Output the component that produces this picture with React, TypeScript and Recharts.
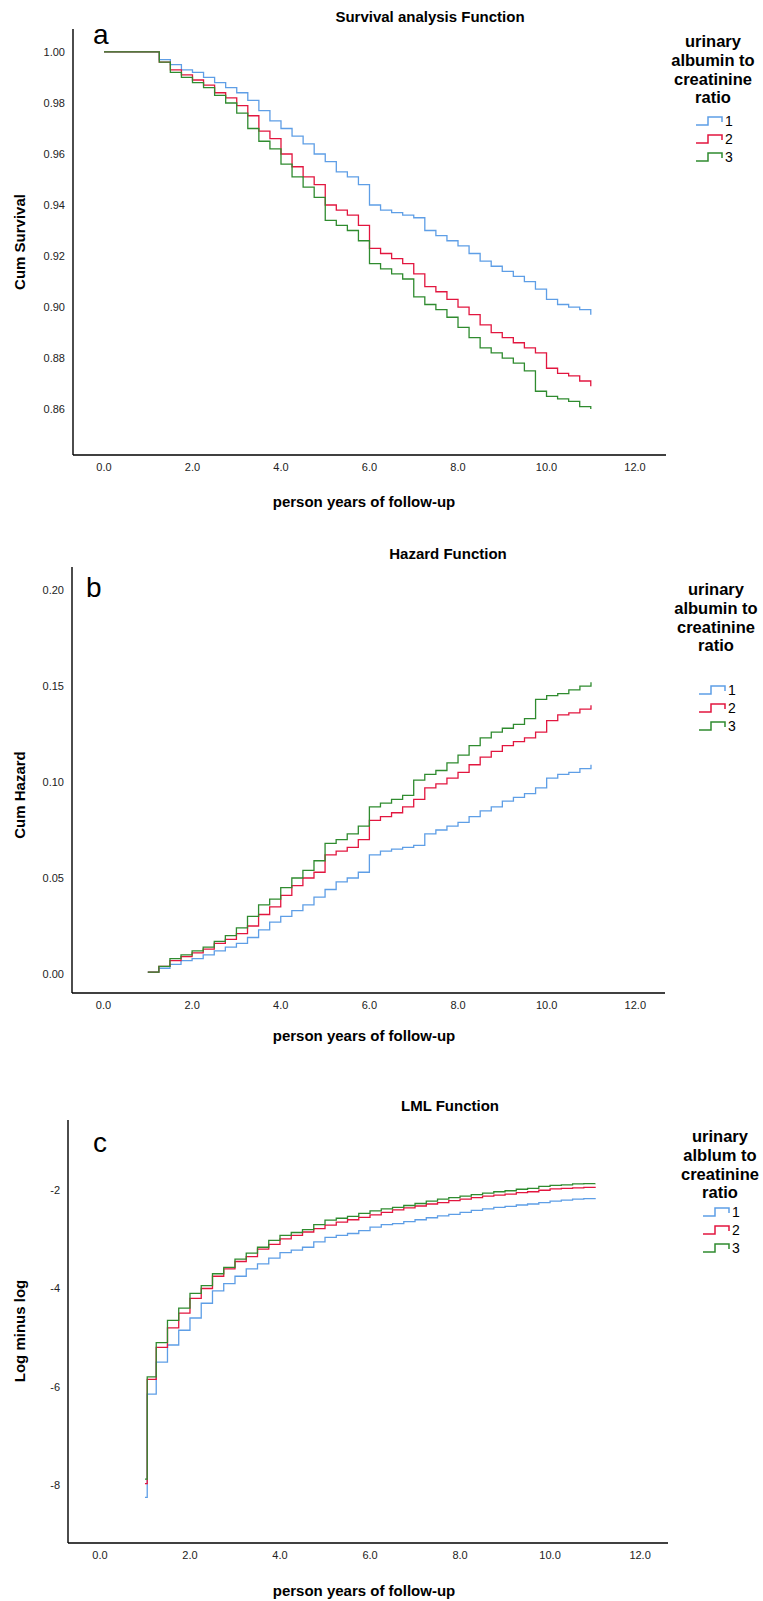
import React from "react";
import { LineChart, Line, XAxis, YAxis } from "recharts";

const FONT = '"Liberation Sans", Arial, sans-serif';
const COLORS = ["#5e9ee6", "#e2163f", "#2f8b2f"];
const GROUPS = ["1", "2", "3"];
const X_TICKS = [0, 2, 4, 6, 8, 10, 12];

// a: survival
const survTimes = [0, 1.0, 1.25, 1.5, 1.75, 2.0, 2.25, 2.5, 2.75, 3.0, 3.25, 3.5, 3.75, 4.0, 4.25, 4.5, 4.75, 5.0, 5.25, 5.5, 5.75, 6.0, 6.25, 6.5, 6.75, 7.0, 7.25, 7.5, 7.75, 8.0, 8.25, 8.5, 8.75, 9.0, 9.25, 9.5, 9.75, 10.0, 10.25, 10.5, 10.75, 11.0];
const surv1 = [1.0, 1.0, 0.997, 0.995, 0.993, 0.992, 0.99, 0.988, 0.986, 0.984, 0.981, 0.977, 0.973, 0.97, 0.967, 0.964, 0.96, 0.957, 0.953, 0.951, 0.948, 0.94, 0.938, 0.937, 0.936, 0.935, 0.93, 0.928, 0.926, 0.924, 0.921, 0.918, 0.916, 0.914, 0.912, 0.91, 0.907, 0.903, 0.901, 0.9, 0.899, 0.897];
const surv2 = [1.0, 1.0, 0.996, 0.993, 0.991, 0.989, 0.987, 0.984, 0.982, 0.979, 0.975, 0.969, 0.966, 0.96, 0.955, 0.951, 0.948, 0.94, 0.938, 0.936, 0.932, 0.923, 0.921, 0.919, 0.917, 0.913, 0.908, 0.906, 0.903, 0.9, 0.897, 0.893, 0.89, 0.888, 0.886, 0.884, 0.882, 0.876, 0.874, 0.873, 0.871, 0.869];
const surv3 = [1.0, 1.0, 0.996, 0.992, 0.99, 0.988, 0.986, 0.983, 0.98, 0.976, 0.97, 0.965, 0.962, 0.956, 0.951, 0.947, 0.943, 0.934, 0.932, 0.93, 0.926, 0.917, 0.915, 0.913, 0.911, 0.904, 0.901, 0.899, 0.896, 0.892, 0.888, 0.884, 0.882, 0.88, 0.878, 0.875, 0.867, 0.865, 0.864, 0.863, 0.861, 0.86];
const survTicks = [0.86, 0.88, 0.9, 0.92, 0.94, 0.96, 0.98, 1.0];

// b: cumulative hazard
const hazTimes = [1.0, 1.25, 1.5, 1.75, 2.0, 2.25, 2.5, 2.75, 3.0, 3.25, 3.5, 3.75, 4.0, 4.25, 4.5, 4.75, 5.0, 5.25, 5.5, 5.75, 6.0, 6.25, 6.5, 6.75, 7.0, 7.25, 7.5, 7.75, 8.0, 8.25, 8.5, 8.75, 9.0, 9.25, 9.5, 9.75, 10.0, 10.25, 10.5, 10.75, 11.0];
const haz1 = [0.001, 0.003, 0.005, 0.007, 0.008, 0.01, 0.012, 0.014, 0.016, 0.019, 0.023, 0.027, 0.03, 0.033, 0.036, 0.04, 0.044, 0.048, 0.05, 0.053, 0.062, 0.064, 0.065, 0.066, 0.067, 0.073, 0.075, 0.077, 0.079, 0.082, 0.085, 0.087, 0.09, 0.092, 0.094, 0.097, 0.102, 0.104, 0.105, 0.107, 0.109];
const haz2 = [0.001, 0.004, 0.007, 0.009, 0.011, 0.013, 0.016, 0.018, 0.021, 0.025, 0.031, 0.035, 0.041, 0.046, 0.05, 0.053, 0.062, 0.064, 0.066, 0.07, 0.08, 0.082, 0.084, 0.087, 0.091, 0.097, 0.099, 0.102, 0.105, 0.109, 0.113, 0.116, 0.119, 0.121, 0.123, 0.126, 0.132, 0.135, 0.136, 0.138, 0.14];
const haz3 = [0.001, 0.004, 0.008, 0.01, 0.012, 0.014, 0.017, 0.02, 0.024, 0.03, 0.036, 0.039, 0.045, 0.05, 0.054, 0.059, 0.068, 0.07, 0.073, 0.077, 0.087, 0.089, 0.091, 0.093, 0.101, 0.104, 0.106, 0.11, 0.114, 0.119, 0.123, 0.126, 0.128, 0.13, 0.133, 0.143, 0.145, 0.146, 0.148, 0.15, 0.152];
const hazTicks = [0, 0.05, 0.1, 0.15, 0.2];

// c: log minus log
const lmlTimes = [1.0, 1.05, 1.25, 1.5, 1.75, 2.0, 2.25, 2.5, 2.75, 3.0, 3.25, 3.5, 3.75, 4.0, 4.25, 4.5, 4.75, 5.0, 5.25, 5.5, 5.75, 6.0, 6.25, 6.5, 6.75, 7.0, 7.25, 7.5, 7.75, 8.0, 8.25, 8.5, 8.75, 9.0, 9.25, 9.5, 9.75, 10.0, 10.25, 10.5, 10.75, 11.0];
const lml1 = [-8.25, -6.15, -5.5, -5.15, -4.85, -4.6, -4.3, -4.05, -3.9, -3.75, -3.6, -3.5, -3.38, -3.27, -3.22, -3.16, -3.05, -2.96, -2.92, -2.88, -2.82, -2.75, -2.7, -2.68, -2.64, -2.6, -2.56, -2.52, -2.49, -2.45, -2.41, -2.38, -2.35, -2.33, -2.3, -2.28, -2.25, -2.22, -2.2, -2.18, -2.17, -2.16];
const lml2 = [-7.97, -5.85, -5.2, -4.8, -4.5, -4.2, -4.0, -3.75, -3.6, -3.45, -3.35, -3.2, -3.1, -2.99, -2.92, -2.85, -2.78, -2.71, -2.65, -2.6, -2.55, -2.5, -2.45, -2.4, -2.36, -2.32, -2.28, -2.25, -2.21, -2.18, -2.15, -2.12, -2.1, -2.08, -2.05, -2.03, -2.0, -1.97, -1.96, -1.95, -1.94, -1.93];
const lml3 = [-7.88, -5.8, -5.1, -4.65, -4.4, -4.1, -3.94, -3.7, -3.57, -3.4, -3.28, -3.16, -3.02, -2.92, -2.86, -2.8, -2.7, -2.61, -2.57, -2.53, -2.47, -2.42, -2.38, -2.35, -2.31, -2.27, -2.22, -2.18, -2.15, -2.12, -2.09, -2.06, -2.03, -2.01, -1.98, -1.96, -1.92, -1.9, -1.89, -1.87, -1.865, -1.86];
const lmlTicks = [-8, -6, -4, -2];

const toRows = (times: number[], a: number[], b: number[], c: number[]) =>
  times.map((t, i) => ({ t, g1: a[i], g2: b[i], g3: c[i] }));

const tickStyle = { fontSize: 11, fill: "#222", fontFamily: FONT };
const axisLine = { stroke: "#000", strokeWidth: 1.4 };

interface PanelProps {
  top: number;
  height: number;
  margin: { top: number; right: number; bottom: number; left: number };
  data: any[];
  xDomain: [number, number];
  yDomain: [number, number];
  yTicks: number[];
  yFormat: (v: number) => string;
}

const Panel = ({ top, height, margin, data, xDomain, yDomain, yTicks, yFormat }: PanelProps) => (
  <div style={{ position: "absolute", left: 0, top }}>
    <LineChart width={763} height={height} data={data} margin={margin}>
      <XAxis
        dataKey="t"
        type="number"
        domain={xDomain}
        ticks={X_TICKS}
        allowDataOverflow
        tickFormatter={(v: number) => v.toFixed(1)}
        tick={tickStyle}
        tickLine={false}
        axisLine={axisLine}
        height={30}
      />
      <YAxis
        type="number"
        domain={yDomain}
        ticks={yTicks}
        allowDataOverflow
        tickFormatter={yFormat}
        tick={tickStyle}
        tickLine={false}
        axisLine={axisLine}
        width={40}
      />
      {["g1", "g2", "g3"].map((k, i) => (
        <Line
          key={k}
          type="stepAfter"
          dataKey={k}
          stroke={COLORS[i]}
          strokeWidth={1.3}
          dot={false}
          isAnimationActive={false}
        />
      ))}
    </LineChart>
  </div>
);

const Text = ({ cx, cy, size, bold, children, rotate }: any) => (
  <div
    style={{
      position: "absolute",
      left: cx - 200,
      top: cy - size * 0.6,
      width: 400,
      textAlign: "center",
      fontFamily: FONT,
      fontSize: size,
      lineHeight: `${size * 1.2}px`,
      fontWeight: bold ? "bold" : "normal",
      color: "#000",
      whiteSpace: "nowrap",
      transform: rotate ? "rotate(-90deg)" : undefined,
    }}
  >
    {children}
  </div>
);

const Letter = ({ x, top, children }: any) => (
  <div style={{ position: "absolute", left: x, top, fontFamily: FONT, fontSize: 28, lineHeight: "28px", color: "#000" }}>
    {children}
  </div>
);

const Legend = ({ cx, titleTop, lines, itemTop }: any) => (
  <>
    <div
      style={{
        position: "absolute",
        left: cx - 60,
        top: titleTop,
        width: 120,
        textAlign: "center",
        fontFamily: FONT,
        fontSize: 16.5,
        lineHeight: "18.8px",
        fontWeight: "bold",
      }}
    >
      {lines.map((l: string) => (
        <div key={l}>{l}</div>
      ))}
    </div>
    {GROUPS.map((g, i) => (
      <div
        key={g}
        style={{
          position: "absolute",
          left: cx - 17,
          top: itemTop + i * 18,
          height: 18,
          display: "flex",
          alignItems: "center",
          fontFamily: FONT,
          fontSize: 14,
        }}
      >
        <svg width={27} height={12}>
          <path d="M0 10 H12 V2 H26 V7" fill="none" stroke={COLORS[i]} strokeWidth={1.5} />
        </svg>
        <span style={{ marginLeft: 2 }}>{g}</span>
      </div>
    ))}
  </>
);

export default function App() {
  return (
    <div style={{ position: "absolute", left: 0, top: 0, width: 763, height: 1601, background: "#fff" }}>
      <Panel
        top={0}
        height={500}
        margin={{ top: 29, right: 97, bottom: 15, left: 33 }}
        data={toRows(survTimes, surv1, surv2, surv3)}
        xDomain={[-0.7, 12.7]}
        yDomain={[0.842, 1.009]}
        yTicks={survTicks}
        yFormat={(v) => v.toFixed(2)}
      />
      <Panel
        top={530}
        height={500}
        margin={{ top: 37, right: 98, bottom: 7, left: 32 }}
        data={toRows(hazTimes, haz1, haz2, haz3)}
        xDomain={[-0.71, 12.67]}
        yDomain={[-0.0099, 0.212]}
        yTicks={hazTicks}
        yFormat={(v) => v.toFixed(2)}
      />
      <Panel
        top={1070}
        height={530}
        margin={{ top: 50, right: 95, bottom: 27, left: 28 }}
        data={toRows(lmlTimes, lml1, lml2, lml3)}
        xDomain={[-0.71, 12.62]}
        yDomain={[-9.18, -0.57]}
        yTicks={lmlTicks}
        yFormat={(v) => String(v)}
      />

      <Text cx={430} cy={17} size={15} bold>Survival analysis Function</Text>
      <Text cx={448} cy={554} size={15} bold>Hazard Function</Text>
      <Text cx={450} cy={1106} size={15} bold>LML Function</Text>

      <Letter x={93} top={21}>a</Letter>
      <Letter x={86} top={574}>b</Letter>
      <Letter x={93} top={1129}>c</Letter>

      <Text cx={20} cy={242} size={15} bold rotate>Cum Survival</Text>
      <Text cx={20} cy={795} size={15} bold rotate>Cum Hazard</Text>
      <Text cx={20} cy={1331} size={15} bold rotate>Log minus log</Text>

      <Text cx={364} cy={502} size={15} bold>person years of follow-up</Text>
      <Text cx={364} cy={1036} size={15} bold>person years of follow-up</Text>
      <Text cx={364} cy={1591} size={15} bold>person years of follow-up</Text>

      <Legend cx={713} titleTop={32} lines={["urinary", "albumin to", "creatinine", "ratio"]} itemTop={112} />
      <Legend cx={716} titleTop={580} lines={["urinary", "albumin to", "creatinine", "ratio"]} itemTop={681} />
      <Legend cx={720} titleTop={1127} lines={["urinary", "alblum to", "creatinine", "ratio"]} itemTop={1203} />
    </div>
  );
}
